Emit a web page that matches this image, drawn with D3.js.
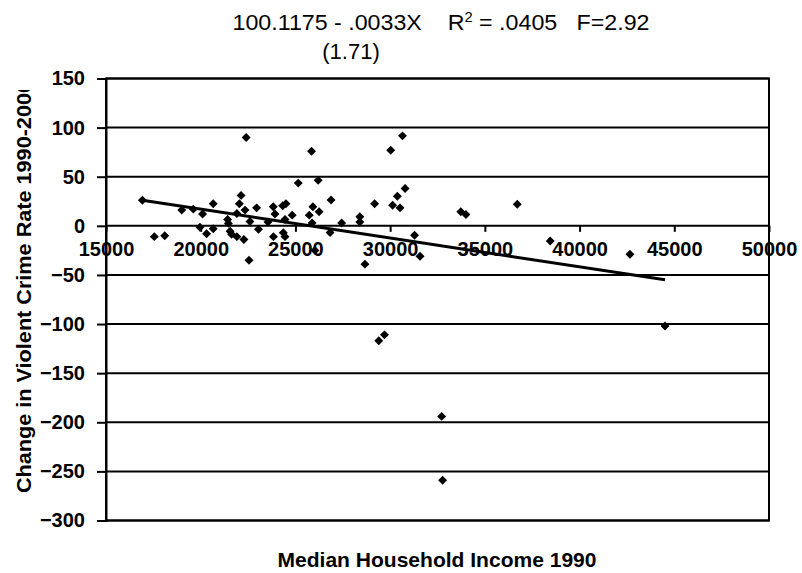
<!DOCTYPE html>
<html>
<head>
<meta charset="utf-8">
<script src="https://cdn.jsdelivr.net/npm/d3@7"></script>
<style>
  body { margin: 0; background: #fff; }
  svg text { font-family: "Liberation Sans", Arial, sans-serif; fill: #000; }
</style>
</head>
<body>
<div id="chart"></div>
<script>
// median household income 1990 (x) and change in violent crime rate 1990-2000 (y)
const income = [
  16920, 17550, 18100, 19000, 19610, 20100, 20660, 19960, 20310, 20660,
  21420, 21460, 21550, 21630, 21910, 22280, 21910, 22130, 22040, 22340,
  22400, 22550, 22600, 22950, 23050, 23550, 23830, 23920, 23840, 24330,
  24500, 24450, 24360, 24450, 24830, 25150, 25850, 26200, 25920, 26250,
  25730, 25880, 26030, 26880, 26830, 27440, 28400, 28400, 28670, 29180,
  29400, 29700, 30030, 30650, 30790, 30380, 30130, 30520, 31290, 31580,
  32720, 32770, 33730, 34000, 36710, 38450, 42660, 44510
];
const crimeChange = [
  26, -11, -10, 16, 17, 12, 22.5, -1.5, -8, -3,
  6.5, 2.5, -5.5, -8.5, -11, -14, 12.6, 31, 22.5, 16,
  90, -35, 4.5, 18.3, -3.4, 4, 19.4, 12, -11, 20.5,
  22.5, 6.5, -7, -11, 10.9, 43.5, 76, 46.3, 19.4, 14.4,
  10.9, 3, -25, 26.3, -6.8, 2.8, 9.2, 4, -39, 22.5,
  -117, -111, 77, 91.6, 38, 30.2, 21, 18.3, -9.5, -31,
  -194, -259, 14.3, 11.6, 22, -15.5, -29, -102
];

// fitted line at the ends of the data
const trendX = [16920, 44510];
const trendY = [26, -55];

const xTicks = [15000, 20000, 25000, 30000, 35000, 40000, 45000, 50000];
const yTicks = [150, 100, 50, 0, -50, -100, -150, -200, -250, -300];

const W = 802, H = 573;
const plot = { left: 106, right: 769, top: 78.5, bottom: 520.5 };

const svg = d3.select("#chart").append("svg").attr("width", W).attr("height", H);

const x = d3.scaleLinear().domain([15000, 50000]).range([plot.left, plot.right]);
const y = d3.scaleLinear().domain([-300, 150]).range([plot.bottom, plot.top]);

// horizontal grid lines
svg.append("g").selectAll("line").data(yTicks).enter().append("line")
  .attr("x1", plot.left).attr("x2", plot.right)
  .attr("y1", d => y(d)).attr("y2", d => y(d))
  .attr("stroke", "#000").attr("stroke-width", 2);

// plot frame
svg.append("rect")
  .attr("x", plot.left).attr("y", plot.top)
  .attr("width", plot.right - plot.left).attr("height", plot.bottom - plot.top)
  .attr("fill", "none").attr("stroke", "#000").attr("stroke-width", 2);

// y axis
const yAxis = svg.append("g")
  .attr("transform", "translate(" + plot.left + ",0)")
  .call(d3.axisLeft(y).tickValues(yTicks).tickSize(9).tickPadding(12));
yAxis.select(".domain").attr("stroke-width", 2);
yAxis.selectAll(".tick line").attr("stroke-width", 2);
yAxis.selectAll("text").style("font-size", "20px").style("font-weight", "bold")
  .attr("fill", "#000");

// x axis crosses at y = 0
const xAxis = svg.append("g")
  .attr("transform", "translate(0," + y(0) + ")")
  .call(d3.axisBottom(x).tickValues(xTicks).tickFormat(d3.format("d")).tickSize(6).tickPadding(10));
xAxis.select(".domain").remove();
xAxis.selectAll(".tick line").attr("stroke-width", 2);
xAxis.selectAll("text").style("font-size", "20px").style("font-weight", "bold")
  .attr("fill", "#000");

// trend line
svg.append("path")
  .datum(trendX.map((d, i) => [d, trendY[i]]))
  .attr("fill", "none").attr("stroke", "#000").attr("stroke-width", 3)
  .attr("d", d3.line().x(d => x(d[0])).y(d => y(d[1])));

// diamond markers
const diamond = d3.symbol(d3.symbolSquare, 40);
svg.append("g").selectAll("path").data(income).enter().append("path")
  .attr("d", diamond)
  .attr("transform", (d, i) => "translate(" + x(d) + "," + y(crimeChange[i]) + ") rotate(45)")
  .attr("fill", "#000");

// title
svg.append("text")
  .attr("x", 441).attr("y", 30)
  .attr("text-anchor", "middle")
  .style("font-size", "22px")
  .attr("textLength", 417).attr("lengthAdjust", "spacingAndGlyphs")
  .html("100.1175 - .0033X \u00a0\u00a0\u00a0R<tspan dy='-8' style='font-size:14px'>2</tspan><tspan dy='8'> = .0405 \u00a0\u00a0F=2.92</tspan>");
svg.append("text")
  .attr("x", 351).attr("y", 59)
  .attr("text-anchor", "middle")
  .style("font-size", "22px")
  .text("(1.71)");

// axis titles
svg.append("text")
  .attr("x", 437).attr("y", 567)
  .attr("text-anchor", "middle")
  .style("font-size", "21px").style("font-weight", "bold")
  .attr("textLength", 319).attr("lengthAdjust", "spacingAndGlyphs")
  .text("Median Household Income 1990");

svg.append("clipPath").attr("id", "ylabClip")
  .append("rect").attr("x", 0).attr("y", 90).attr("width", 80).attr("height", 480);
svg.append("g").attr("clip-path", "url(#ylabClip)")
  .append("text")
  .attr("transform", "translate(31,493) rotate(-90)")
  .style("font-size", "20px").style("font-weight", "bold")
  .attr("textLength", 412).attr("lengthAdjust", "spacingAndGlyphs")
  .text("Change in Violent Crime Rate 1990-2000");
</script>
</body>
</html>
